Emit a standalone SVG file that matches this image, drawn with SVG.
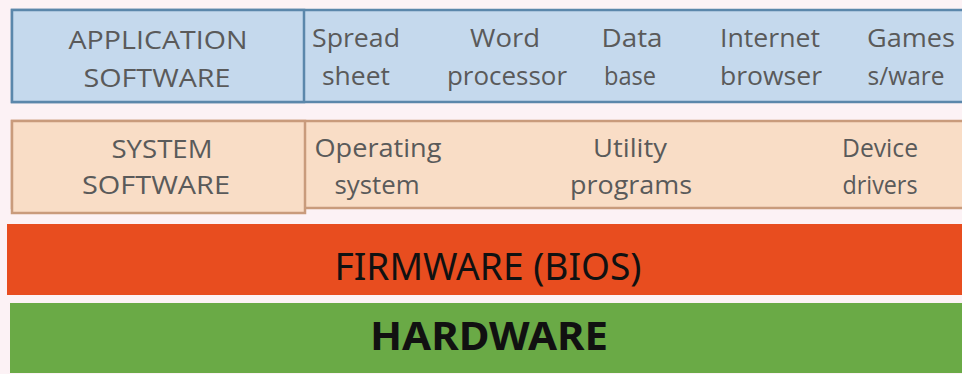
<svg xmlns="http://www.w3.org/2000/svg" width="962" height="374" viewBox="0 0 962 374">
<style>
.t{font-family:"Open Sans","Noto Sans","Liberation Sans",sans-serif;font-size:25px;fill:#5a5a5a;text-anchor:middle}
.big{font-family:"Noto Sans","Open Sans","Liberation Sans",sans-serif;fill:#111;text-anchor:middle}
.blue{fill:#c5d9ed;stroke:#5b87ab;stroke-width:2.5}
.peach{fill:#f9ddc6;stroke:#c99b7c;stroke-width:2.5}
</style>
<rect x="0" y="0" width="962" height="374" fill="#fcf2f5"/>
<g id="application-row">
<rect class="blue" x="12" y="10" width="956" height="92"/>
<rect class="blue" x="12" y="10" width="292" height="92"/>
<text class="t" x="158" y="49" textLength="179" lengthAdjust="spacingAndGlyphs">APPLICATION</text>
<text class="t" x="157" y="87" textLength="147" lengthAdjust="spacingAndGlyphs">SOFTWARE</text>
</g>
<g id="spreadsheet">
<text class="t" x="356" y="47" textLength="88" lengthAdjust="spacingAndGlyphs">Spread</text>
<text class="t" x="356" y="85" textLength="68" lengthAdjust="spacingAndGlyphs">sheet</text>
</g>
<g id="word-processor">
<text class="t" x="505" y="47" textLength="70" lengthAdjust="spacingAndGlyphs">Word</text>
<text class="t" x="507" y="85" textLength="120" lengthAdjust="spacingAndGlyphs">processor</text>
</g>
<g id="database">
<text class="t" x="632" y="47" textLength="61" lengthAdjust="spacingAndGlyphs">Data</text>
<text class="t" x="630" y="85" textLength="52" lengthAdjust="spacingAndGlyphs">base</text>
</g>
<g id="internet-browser">
<text class="t" x="770" y="47" textLength="100" lengthAdjust="spacingAndGlyphs">Internet</text>
<text class="t" x="771" y="85" textLength="102" lengthAdjust="spacingAndGlyphs">browser</text>
</g>
<g id="games">
<text class="t" x="911" y="47" textLength="88" lengthAdjust="spacingAndGlyphs">Games</text>
<text class="t" x="906" y="85" textLength="77" lengthAdjust="spacingAndGlyphs">s/ware</text>
</g>
<g id="system-row">
<rect class="peach" x="12" y="121" width="956" height="87"/>
<rect class="peach" x="12" y="121" width="293" height="92"/>
<text class="t" x="162" y="158" textLength="101" lengthAdjust="spacingAndGlyphs">SYSTEM</text>
<text class="t" x="156" y="194" textLength="148" lengthAdjust="spacingAndGlyphs">SOFTWARE</text>
</g>
<g id="operating-system">
<text class="t" x="378" y="157" textLength="127" lengthAdjust="spacingAndGlyphs">Operating</text>
<text class="t" x="377" y="194" textLength="85" lengthAdjust="spacingAndGlyphs">system</text>
</g>
<g id="utility-programs">
<text class="t" x="630" y="157" textLength="74" lengthAdjust="spacingAndGlyphs">Utility</text>
<text class="t" x="631" y="194" textLength="122" lengthAdjust="spacingAndGlyphs">programs</text>
</g>
<g id="device-drivers">
<text class="t" x="880" y="157" textLength="76" lengthAdjust="spacingAndGlyphs">Device</text>
<text class="t" x="880" y="194" textLength="75" lengthAdjust="spacingAndGlyphs">drivers</text>
</g>
<g id="firmware">
<rect x="7" y="224" width="955" height="71" fill="#e84d1f"/>
<text class="big" x="488" y="280" font-size="38" textLength="307" lengthAdjust="spacingAndGlyphs">FIRMWARE (BIOS)</text>
</g>
<g id="hardware">
<rect x="10" y="303" width="952" height="70" fill="#6aaa46"/>
<text class="big" x="489" y="350" font-size="40" font-weight="bold" textLength="238" lengthAdjust="spacingAndGlyphs">HARDWARE</text>
</g>
<g id="connectors"/>
</svg>
